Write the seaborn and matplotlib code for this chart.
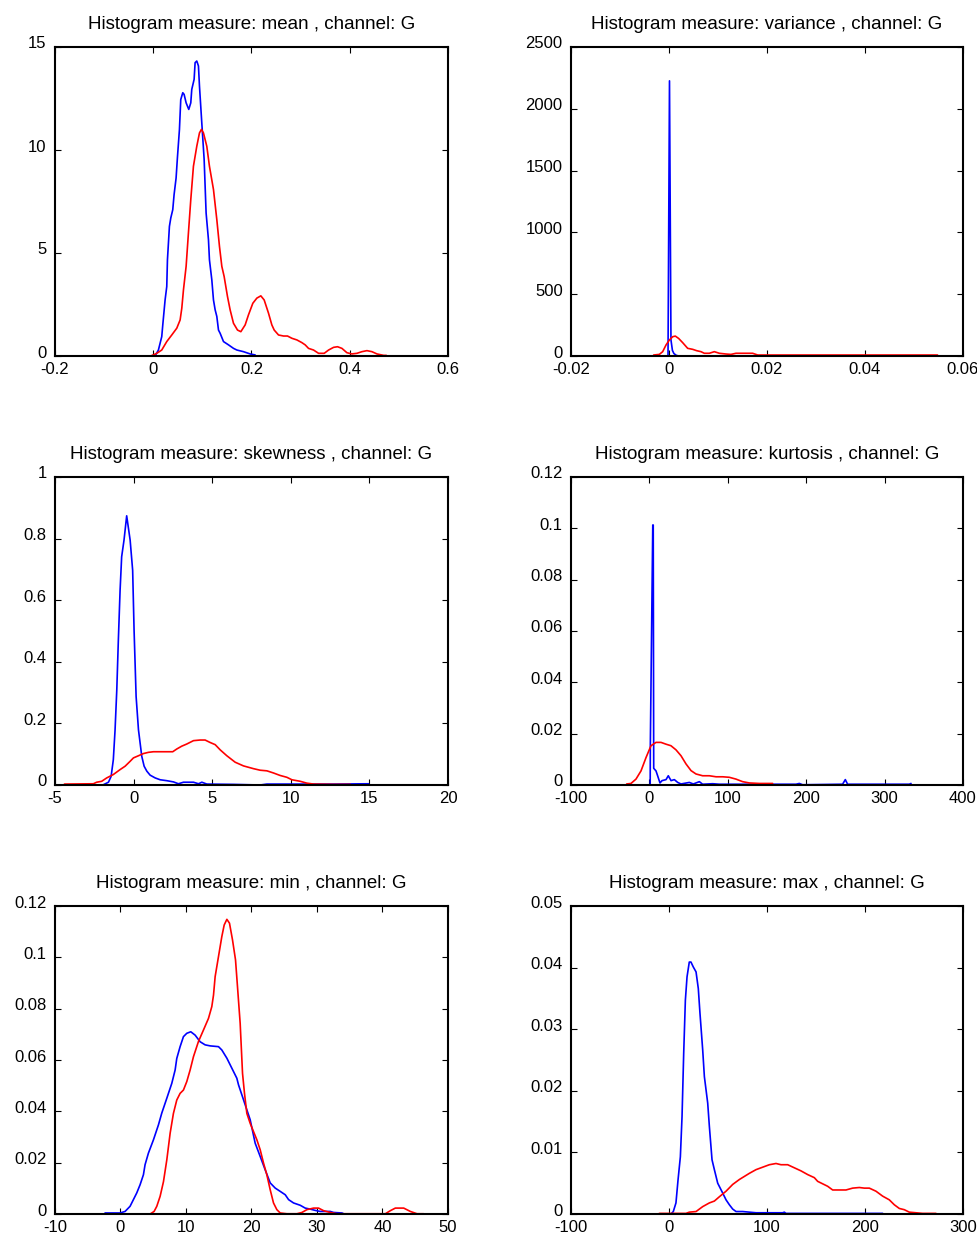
import matplotlib
matplotlib.use("Agg")
import matplotlib.pyplot as plt
import matplotlib.transforms as mtransforms
import seaborn as sns
import pandas as pd

# ---- density curves, one pair (blue / red) per histogram measure ----
mean_blue_x = [0.0037, 0.0105, 0.0173, 0.0194, 0.0241, 0.0275, 0.0289, 0.0329, 0.0357, 0.0397, 0.0424,
               0.0465, 0.0492, 0.0533, 0.056, 0.0601, 0.0628, 0.0669, 0.0723, 0.0764, 0.0784, 0.0832,
               0.0852, 0.0886, 0.0920, 0.0941, 0.0988, 0.1036, 0.1076, 0.1124, 0.1144, 0.1192, 0.1226,
               0.1260, 0.1294, 0.1328, 0.1362, 0.1430, 0.1532, 0.1634, 0.1702, 0.1837, 0.1973, 0.2075]
mean_blue_y = [0, 0.29, 0.94, 1.51, 2.72, 3.37, 4.67, 6.29, 6.70, 7.10, 7.83, 8.64, 9.63, 10.99, 12.45,
               12.78, 12.70, 12.29, 11.97, 12.29, 12.94, 13.43, 14.24, 14.32, 14.08, 13.10, 11.32, 9.54,
               6.94, 5.64, 4.67, 3.70, 2.72, 2.24, 1.92, 1.26, 1.10, 0.70, 0.54, 0.37, 0.29, 0.21, 0.10, 0.05]
mean_red_x = [-0.0051, 0.0071, 0.0173, 0.0275, 0.0377, 0.0479, 0.0547, 0.0581, 0.0615, 0.0669, 0.0716,
              0.0764, 0.0818, 0.0886, 0.0941, 0.0981, 0.1022, 0.1090, 0.1144, 0.1226, 0.1294, 0.1348,
              0.1396, 0.1443, 0.1511, 0.1565, 0.1633, 0.1715, 0.1783, 0.1871, 0.1939, 0.2027, 0.2109,
              0.2190, 0.2258, 0.2346, 0.2414, 0.2462, 0.2550, 0.2652, 0.2733, 0.2822, 0.2924, 0.3025,
              0.3093, 0.3161, 0.3263, 0.3365, 0.3480, 0.3569, 0.3671, 0.3752, 0.3841, 0.3942, 0.4044,
              0.4146, 0.4248, 0.4350, 0.4452, 0.4554, 0.4690, 0.4744]
mean_red_y = [0, 0.13, 0.29, 0.70, 1.02, 1.35, 1.75, 2.32, 3.21, 4.35, 5.97, 7.59, 9.21, 10.18, 10.83,
              11.0, 10.83, 10.18, 9.21, 8.08, 6.62, 5.32, 4.35, 3.86, 2.89, 2.24, 1.59, 1.26, 1.18, 1.51,
              2.00, 2.56, 2.81, 2.92, 2.72, 2.08, 1.51, 1.26, 1.02, 0.97, 0.97, 0.86, 0.78, 0.65, 0.54,
              0.37, 0.29, 0.13, 0.13, 0.29, 0.42, 0.45, 0.37, 0.16, 0.10, 0.13, 0.21, 0.26, 0.21, 0.10,
              0.03, 0.03]

variance_blue_x = [-0.0002, 0.0001, 0.0004, 0.0007, 0.0010, 0.0015, 0.0020, 0.0269]
variance_blue_y = [0, 2226, 130, 45, 20, 5, 0, 0]
variance_red_x = [-0.00313, -0.00197, -0.00129, -0.00061, 0.00007, 0.00075, 0.00129, 0.00197, 0.00279,
                  0.00381, 0.00483, 0.00565, 0.00653, 0.00721, 0.00823, 0.00925, 0.01027, 0.01163,
                  0.01265, 0.01367, 0.01503, 0.01707, 0.01810, 0.02116, 0.0269, 0.0548]
variance_red_y = [8, 13, 35, 89, 129, 156, 161, 142, 108, 62, 54, 43, 35, 22, 22, 35, 22, 16, 13, 22,
                  22, 22, 8, 8, 8, 8]

skewness_blue_x = [-1.92, -1.60, -1.43, -1.29, -1.18, -1.07, -0.97, -0.86, -0.76, -0.61, -0.44, -0.22,
                   -0.06, 0.03, 0.16, 0.31, 0.52, 0.67, 0.84, 1.05, 1.37, 1.69, 2.11, 2.54, 2.85, 3.17,
                   3.81, 4.13, 4.34, 4.66, 6.36, 8.05, 8.48, 12.72, 14.95]
skewness_blue_y = [0.001, 0.009, 0.028, 0.082, 0.178, 0.308, 0.470, 0.632, 0.741, 0.795, 0.874, 0.795,
                   0.697, 0.503, 0.287, 0.179, 0.093, 0.061, 0.045, 0.032, 0.023, 0.017, 0.014, 0.010,
                   0.004, 0.009, 0.009, 0.004, 0.009, 0.003, 0.002, 0.0, 0.003, 0.003, 0.004]
skewness_red_x = [-4.40, -2.56, -2.35, -2.03, -1.71, -1.29, -0.86, -0.54, -0.22, -0.01, 0.31, 0.62,
                  0.94, 1.26, 1.69, 2.11, 2.49, 2.75, 3.06, 3.38, 3.81, 4.23, 4.55, 4.87, 5.19, 5.51,
                  5.93, 6.46, 6.99, 7.63, 8.05, 8.48, 8.90, 9.32, 9.75, 10.07, 10.60, 11.02, 11.45,
                  12.72, 13.79]
skewness_red_y = [0.003, 0.004, 0.009, 0.012, 0.023, 0.034, 0.050, 0.061, 0.077, 0.088, 0.095, 0.102,
                  0.106, 0.108, 0.108, 0.108, 0.108, 0.117, 0.126, 0.133, 0.144, 0.146, 0.146, 0.138,
                  0.131, 0.114, 0.095, 0.074, 0.062, 0.053, 0.048, 0.046, 0.039, 0.031, 0.025, 0.017,
                  0.012, 0.006, 0.003, 0.002, 0.002]

kurtosis_blue_x = [1.0, 1.2, 4.3, 4.9, 5.5, 8.4, 10.5, 13.5, 16.1, 21.2, 24.1, 27.6, 31.8, 36.1, 40.3,
                   50.9, 56.0, 63.7, 67.9, 80.7, 89.1, 187.0, 191.2, 195.4, 246.4, 249.9, 252.8, 331.5,
                   333.7]
kurtosis_blue_y = [0, 0.016, 0.1013, 0.1013, 0.0065, 0.0055, 0.0036, 0.0008, 0.0017, 0.0021, 0.0036,
                   0.0017, 0.0021, 0.0010, 0.0004, 0.0010, 0.0004, 0.0013, 0.0003, 0.0005, 0.0003,
                   0.0003, 0.0006, 0.0001, 0.0003, 0.0021, 0.0003, 0.0003, 0.0006]
kurtosis_red_x = [-29.0, -23.5, -17.1, -10.7, -4.3, 2.0, 8.4, 14.8, 21.2, 27.5, 33.9, 40.3, 46.7, 53.1,
                  59.4, 67.9, 76.5, 85.0, 93.5, 101.9, 110.4, 118.9, 127.4, 140.1, 157.2]
kurtosis_red_y = [0.0004, 0.0006, 0.0023, 0.0055, 0.0107, 0.0153, 0.0166, 0.0166, 0.0159, 0.0153,
                  0.0137, 0.0114, 0.0082, 0.0056, 0.0043, 0.0036, 0.0036, 0.0032, 0.0032, 0.0030,
                  0.0023, 0.0013, 0.0008, 0.0006, 0.0006]

min_blue_x = [-2.36, -1.09, -0.07, 0.70, 1.46, 1.97, 2.48, 2.99, 3.50, 3.75, 4.26, 5.03, 5.79, 6.30,
              7.07, 7.83, 8.34, 8.59, 9.10, 9.61, 10.12, 10.73, 11.39, 12.16, 12.92, 13.69, 14.96,
              15.47, 16.24, 17.00, 17.76, 18.02, 18.78, 19.80, 20.56, 21.33, 22.09, 22.86, 23.62,
              24.39, 25.15, 25.66, 26.42, 27.44, 28.20, 28.97, 29.73, 30.49, 32.02, 32.53, 33.81, 34.07]
min_blue_y = [0.0004, 0.0004, 0.0004, 0.0010, 0.0030, 0.0056, 0.0082, 0.0114, 0.0153, 0.0192, 0.0237,
              0.0289, 0.0347, 0.0393, 0.0451, 0.0509, 0.0561, 0.0606, 0.0652, 0.0691, 0.0704, 0.0710,
              0.0697, 0.0671, 0.0659, 0.0655, 0.0652, 0.0639, 0.0607, 0.0568, 0.0529, 0.0503, 0.0445,
              0.0367, 0.0276, 0.0224, 0.0172, 0.0121, 0.0101, 0.0088, 0.0075, 0.0056, 0.0043, 0.0034,
              0.0023, 0.0019, 0.0014, 0.0010, 0.0010, 0.0006, 0.0004, 0.0001]
min_red_x = [4.52, 5.13, 5.54, 6.05, 6.56, 7.07, 7.58, 8.08, 8.59, 9.10, 9.61, 10.12, 10.63, 11.14,
             11.90, 12.67, 13.43, 13.94, 14.20, 14.45, 14.96, 15.47, 15.83, 16.24, 16.64, 17.10, 17.56,
             17.86, 18.27, 18.63, 18.93, 19.29, 19.80, 20.31, 20.82, 21.33, 21.84, 22.34, 22.85, 23.36,
             23.87, 24.38, 25.40, 26.93, 27.70, 28.46, 29.48, 30.24, 31.00, 32.02, 33.04, 40.44, 41.20,
             41.96, 43.24, 44.25, 45.27, 46.29]
min_red_y = [0, 0.0010, 0.0030, 0.0069, 0.0126, 0.0211, 0.0315, 0.0392, 0.0444, 0.0470, 0.0483,
             0.0516, 0.0561, 0.0613, 0.0672, 0.0717, 0.0762, 0.0808, 0.0853, 0.0925, 0.1003, 0.1081,
             0.1126, 0.1148, 0.1133, 0.1068, 0.0990, 0.0886, 0.0743, 0.0548, 0.0470, 0.0392, 0.0353,
             0.0321, 0.0289, 0.0250, 0.0198, 0.0153, 0.0095, 0.0043, 0.0017, 0.0004, 0.0001, 0.0001,
             0.0006, 0.0017, 0.0023, 0.0023, 0.0013, 0.0006, 0.0001, 0.0001, 0.0013, 0.0023, 0.0023,
             0.0010, 0.0001, 0.0001]

max_blue_x = [2.0, 4.4, 7.1, 9.2, 11.6, 13.3, 15.0, 16.7, 18.4, 20.7, 22.4, 24.8, 27.6, 29.9, 31.6,
              34.4, 36.1, 39.5, 41.2, 43.9, 46.3, 49.7, 54.8, 58.2, 61.6, 65.0, 68.4, 75.2, 82.0, 88.8,
              116.0, 117.7, 119.4, 156.8, 218.0]
max_blue_y = [0, 0.0004, 0.0018, 0.0055, 0.0093, 0.0158, 0.0261, 0.0347, 0.0385, 0.0409, 0.0409,
              0.0401, 0.0393, 0.0366, 0.0326, 0.0266, 0.0223, 0.0180, 0.0142, 0.0088, 0.0072, 0.0050,
              0.0034, 0.0023, 0.0015, 0.0008, 0.0004, 0.0004, 0.0003, 0.0002, 0.0002, 0.0003, 0.0001,
              0.0001, 0.0001]
max_red_x = [-9.9, 17.3, 20.7, 27.6, 34.4, 41.2, 46.3, 51.4, 58.2, 65.0, 71.8, 76.9, 82.0, 88.8, 95.6,
             102.4, 109.2, 114.3, 121.1, 127.9, 134.7, 141.5, 148.3, 151.7, 156.8, 161.9, 167.0, 173.8,
             180.6, 187.4, 194.2, 199.3, 204.4, 211.2, 218.0, 224.8, 229.9, 235.0, 240.1, 245.2, 252.0,
             258.8, 272.4]
max_red_y = [0.0001, 0.0001, 0.0003, 0.0004, 0.0012, 0.0018, 0.0021, 0.0028, 0.0037, 0.0048, 0.0056,
             0.0061, 0.0066, 0.0072, 0.0076, 0.0080, 0.0082, 0.0080, 0.0080, 0.0075, 0.0070, 0.0064,
             0.0059, 0.0053, 0.0049, 0.0045, 0.0039, 0.0039, 0.0039, 0.0042, 0.0043, 0.0042, 0.0042,
             0.0037, 0.0029, 0.0023, 0.0015, 0.0009, 0.0007, 0.0003, 0.0002, 0.0001, 0.0001]

# ---- titles and tick labels ----
measures = ["mean", "variance", "skewness", "kurtosis", "min", "max"]
channel = "G"

mean_xticks = [-0.2, 0, 0.2, 0.4, 0.6]
mean_xlabels = ["-0.2", "0", "0.2", "0.4", "0.6"]
mean_yticks = [0, 5, 10, 15]
mean_ylabels = ["0", "5", "10", "15"]

variance_xticks = [-0.02, 0, 0.02, 0.04, 0.06]
variance_xlabels = ["-0.02", "0", "0.02", "0.04", "0.06"]
variance_yticks = [0, 500, 1000, 1500, 2000, 2500]
variance_ylabels = ["0", "500", "1000", "1500", "2000", "2500"]

skewness_xticks = [-5, 0, 5, 10, 15, 20]
skewness_xlabels = ["-5", "0", "5", "10", "15", "20"]
skewness_yticks = [0, 0.2, 0.4, 0.6, 0.8, 1]
skewness_ylabels = ["0", "0.2", "0.4", "0.6", "0.8", "1"]

kurtosis_xticks = [-100, 0, 100, 200, 300, 400]
kurtosis_xlabels = ["-100", "0", "100", "200", "300", "400"]
kurtosis_yticks = [0, 0.02, 0.04, 0.06, 0.08, 0.1, 0.12]
kurtosis_ylabels = ["0", "0.02", "0.04", "0.06", "0.08", "0.1", "0.12"]

min_xticks = [-10, 0, 10, 20, 30, 40, 50]
min_xlabels = ["-10", "0", "10", "20", "30", "40", "50"]
min_yticks = [0, 0.02, 0.04, 0.06, 0.08, 0.1, 0.12]
min_ylabels = ["0", "0.02", "0.04", "0.06", "0.08", "0.1", "0.12"]

max_xticks = [-100, 0, 100, 200, 300]
max_xlabels = ["-100", "0", "100", "200", "300"]
max_yticks = [0, 0.01, 0.02, 0.03, 0.04, 0.05]
max_ylabels = ["0", "0.01", "0.02", "0.03", "0.04", "0.05"]

sns.set_style("white")
plt.rcParams["font.family"] = ["Liberation Sans", "DejaVu Sans"]

panels = [
    (mean_blue_x, mean_blue_y, mean_red_x, mean_red_y,
     mean_xticks, mean_xlabels, mean_yticks, mean_ylabels),
    (variance_blue_x, variance_blue_y, variance_red_x, variance_red_y,
     variance_xticks, variance_xlabels, variance_yticks, variance_ylabels),
    (skewness_blue_x, skewness_blue_y, skewness_red_x, skewness_red_y,
     skewness_xticks, skewness_xlabels, skewness_yticks, skewness_ylabels),
    (kurtosis_blue_x, kurtosis_blue_y, kurtosis_red_x, kurtosis_red_y,
     kurtosis_xticks, kurtosis_xlabels, kurtosis_yticks, kurtosis_ylabels),
    (min_blue_x, min_blue_y, min_red_x, min_red_y,
     min_xticks, min_xlabels, min_yticks, min_ylabels),
    (max_blue_x, max_blue_y, max_red_x, max_red_y,
     max_xticks, max_xlabels, max_yticks, max_ylabels),
]

W, H = 978, 1236
fig = plt.figure(figsize=(W / 100, H / 100), dpi=100)

# axes boxes in pixels: (left, top, right, bottom)
col_lr = [(55, 448), (571, 963)]
row_tb = [(47, 356), (477, 785), (906, 1214)]

# y tick labels sit a little above their ticks
raise_labels = mtransforms.ScaledTranslation(0, 0.045, fig.dpi_scale_trans)

for i, (measure, panel) in enumerate(zip(measures, panels)):
    bx, by, rx, ry, xt, xl, yt, yl = panel
    left, right = col_lr[i % 2]
    top, bottom = row_tb[i // 2]
    ax = fig.add_axes([left / W, 1 - bottom / H, (right - left) / W, (bottom - top) / H])

    blue = pd.DataFrame({"x": bx, "y": by})
    red = pd.DataFrame({"x": rx, "y": ry})
    sns.lineplot(data=blue, x="x", y="y", color="#0000ff", linewidth=1.2,
                 estimator=None, sort=False, ax=ax)
    sns.lineplot(data=red, x="x", y="y", color="#ff0000", linewidth=1.2,
                 estimator=None, sort=False, ax=ax)

    ax.set_xlim(xt[0], xt[-1])
    ax.set_ylim(yt[0], yt[-1])
    ax.set_xticks(xt)
    ax.set_xticklabels(xl)
    ax.set_yticks(yt)
    ax.set_yticklabels(yl)
    ax.set_xlabel("")
    ax.set_ylabel("")
    ax.tick_params(direction="in", top=True, right=True, left=True, bottom=True,
                   length=4, width=0.8, labelsize=12, colors="black")
    ax.tick_params(axis="x", pad=4)
    ax.tick_params(axis="y", pad=6)
    for lab in ax.get_yticklabels():
        lab.set_transform(lab.get_transform() + raise_labels)
    for sp in ax.spines.values():
        sp.set_visible(True)
        sp.set_color("black")
        sp.set_linewidth(1.5)
    ax.set_title(f"Histogram measure: {measure} , channel: {channel}",
                 fontsize=13.5, pad=13, color="black")

fig.savefig("out.png", dpi=100, facecolor="white")
